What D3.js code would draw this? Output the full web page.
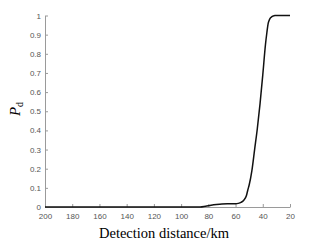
<!DOCTYPE html>
<html>
<head>
<meta charset="utf-8">
<script src="https://d3js.org/d3.v7.min.js"></script>
<style>
  body { margin: 0; background: #fff; }
  svg { display: block; }
</style>
</head>
<body>
<div id="chart"></div>
<script>
// detection distance (km) and detection probability
var distance = [200, 180, 160, 140, 120, 100, 90, 86, 82, 78, 74, 70, 66, 62, 60, 58, 56, 54, 52, 51, 50, 48, 46, 44, 42, 40, 38, 37, 36, 35, 34, 32, 31, 25, 20];
var pd = [0, 0, 0, 0, 0, 0, 0, 0, 0.004, 0.009, 0.013, 0.016, 0.017, 0.017, 0.017, 0.019, 0.024, 0.035, 0.06, 0.089, 0.115, 0.19, 0.3, 0.41, 0.54, 0.69, 0.85, 0.91, 0.96, 0.98, 0.99, 0.998, 1, 1, 1];

var xTicks = [200, 180, 160, 140, 120, 100, 80, 60, 40, 20];
var yTicks = [0, 0.1, 0.2, 0.3, 0.4, 0.5, 0.6, 0.7, 0.8, 0.9, 1];

var svgWidth = 316;
var svgHeight = 248;

var svg = d3.select("#chart").append("svg")
  .attr("width", svgWidth)
  .attr("height", svgHeight);

// x runs from 200 on the left down to 20 on the right
var xScale = d3.scaleLinear()
  .domain([200, 20])
  .range([45, 290]);

var yScale = d3.scaleLinear()
  .domain([0, 1])
  .range([207, 15.5]);

var axisColor = "#9a9a9a";
var labelColor = "#555";

// bottom axis, ticks pointing inward
var xAxis = svg.append("g")
  .attr("transform", "translate(0," + yScale(0) + ")")
  .call(d3.axisBottom(xScale).tickValues(xTicks).tickSizeInner(-3).tickSizeOuter(0).tickPadding(6).tickFormat(d3.format("d")));

// left axis
var yAxis = svg.append("g")
  .attr("transform", "translate(" + xScale(200) + ",0)")
  .call(d3.axisLeft(yScale).tickValues(yTicks).tickSizeInner(-3).tickSizeOuter(0).tickPadding(4).tickFormat(function(d) { return d === 0 || d === 1 ? d : d3.format(".1f")(d); }));

[xAxis, yAxis].forEach(function(ax) {
  ax.select(".domain").attr("stroke", axisColor).attr("stroke-width", 1);
  ax.selectAll(".tick line").attr("stroke", axisColor);
  ax.selectAll(".tick text")
    .attr("fill", labelColor)
    .style("font-family", "'Liberation Sans', Arial, sans-serif")
    .style("font-size", "8px");
});

// the curve
var line = d3.line()
  .x(function(d, i) { return xScale(distance[i]); })
  .y(function(d) { return yScale(d); })
  .curve(d3.curveMonotoneX);

svg.append("path")
  .datum(pd)
  .attr("fill", "none")
  .attr("stroke", "#111")
  .attr("stroke-width", 1.5)
  .attr("d", line);

// axis titles
svg.append("text")
  .attr("x", 164)
  .attr("y", 238)
  .attr("text-anchor", "middle")
  .style("font-family", "'Liberation Serif', 'Times New Roman', serif")
  .style("font-size", "14.5px")
  .attr("fill", "#000")
  .text("Detection distance/km");

var yTitle = svg.append("text")
  .attr("transform", "translate(20,109) rotate(-90)")
  .attr("text-anchor", "middle")
  .style("font-family", "'Liberation Serif', 'Times New Roman', serif")
  .style("font-size", "15px")
  .attr("fill", "#000");
yTitle.append("tspan").style("font-style", "italic").text("P");
yTitle.append("tspan").attr("dy", 3).style("font-size", "10px").text("d");
</script>
</body>
</html>
